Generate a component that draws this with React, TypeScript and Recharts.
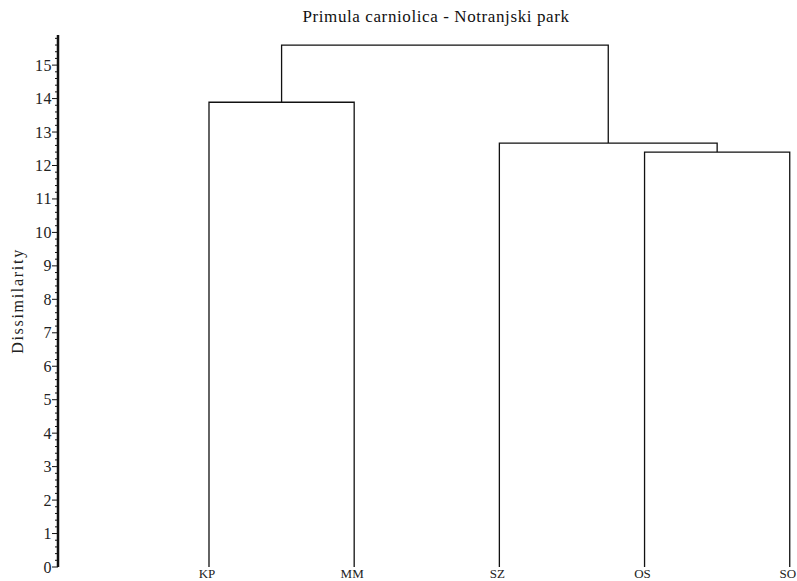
import React from "react";
import { LineChart, Line, XAxis, YAxis } from "recharts";

// leaves in display order
const leaves = ["KP", "MM", "SZ", "OS", "SO"];
// merges: child node ids (0-4 leaves, 5+ earlier merges)
const mergeChildren: [number, number][] = [
  [0, 1],
  [3, 4],
  [2, 6],
  [5, 7],
];
const mergeHeights = [13.89, 12.4, 12.67, 15.6];

const majorTicks = [0, 1, 2, 3, 4, 5, 6, 7, 8, 9, 10, 11, 12, 13, 14, 15];

const W = 797;
const H = 581;
const MARGIN = { top: 35, right: 0, bottom: 0, left: 0 };
const Y_WIDTH = 58;
const AXIS_X = MARGIN.left + Y_WIDTH;
const FONT = '"Liberation Serif", "Times New Roman", serif';

// minor ticks every 0.2
const yTicks: number[] = [];
for (let i = 0; i <= 79; i++) yTicks.push(Math.round(i * 2) / 10);

// build link polylines from merge table
const nodeX: number[] = leaves.map((_, i) => i);
const nodeH: number[] = leaves.map(() => 0);
const links = mergeChildren.map(([a, b], i) => {
  const h = mergeHeights[i];
  const pts = [
    { x: nodeX[a], y: nodeH[a] },
    { x: nodeX[a], y: h },
    { x: nodeX[b], y: h },
    { x: nodeX[b], y: nodeH[b] },
  ];
  nodeX.push((nodeX[a] + nodeX[b]) / 2);
  nodeH.push(h);
  return pts;
});

const YTick = (props: any) => {
  const { y, payload } = props;
  const v = payload.value;
  const major = majorTicks.some((t) => Math.abs(t - v) < 1e-6);
  return (
    <g>
      <line
        x1={AXIS_X - (major ? 6 : 3)}
        x2={AXIS_X}
        y1={y}
        y2={y}
        stroke="#111"
        strokeWidth={1}
      />
      {major && (
        <text
          x={AXIS_X - 6}
          y={y}
          dy={5.5}
          textAnchor="end"
          fontFamily={FONT}
          fontSize={16}
          letterSpacing={0.5}
          fill="#222"
        >
          {Math.round(v)}
        </text>
      )}
    </g>
  );
};

export default function App() {
  return (
    <div style={{ position: "absolute", left: 0, top: 0, width: W, height: H, background: "#fff" }}>
      <div
        style={{
          position: "absolute",
          left: 0,
          width: 872,
          top: 7,
          textAlign: "center",
          fontFamily: FONT,
          fontSize: 17,
          letterSpacing: 0.6,
          color: "#111",
        }}
      >
        Primula carniolica - Notranjski park
      </div>
      <LineChart width={W} height={H} margin={MARGIN}>
        <XAxis
          type="number"
          dataKey="x"
          domain={[-1.04, 4.05]}
          ticks={[0, 1, 2, 3, 4]}
          interval={0}
          tickFormatter={(i: number) => leaves[i]}
          axisLine={false}
          tickLine={false}
          height={14}
          tick={{ fontFamily: FONT, fontSize: 13, fill: "#222", dy: -4, dx: -2 }}
          tickMargin={0}
        />
        <YAxis
          type="number"
          dataKey="y"
          domain={[0, 15.9]}
          ticks={yTicks}
          interval={0}
          width={Y_WIDTH}
          tick={<YTick />}
          tickLine={false}
          axisLine={{ stroke: "#111", strokeWidth: 2.5 }}
          label={{
            value: "Dissimilarity",
            angle: -90,
            position: "insideLeft",
            offset: 17,
            style: {
              fontFamily: FONT,
              fontSize: 16,
              letterSpacing: 1.7,
              fill: "#222",
              textAnchor: "middle",
            },
          }}
        />
        {links.map((pts, i) => (
          <Line
            key={i}
            data={pts}
            dataKey="y"
            type="linear"
            stroke="#111"
            strokeWidth={1.3}
            dot={false}
            activeDot={false}
            isAnimationActive={false}
          />
        ))}
      </LineChart>
    </div>
  );
}
